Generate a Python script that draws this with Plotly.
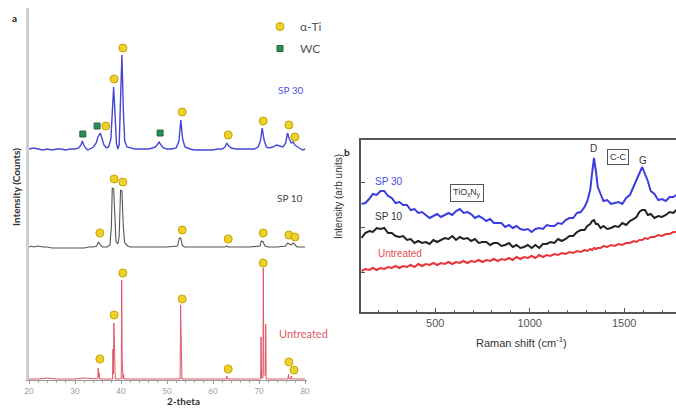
import plotly.graph_objects as go

# ---------------- Panel a: XRD data ----------------
sp30_x = [20,21,22,23,24,25,26,27,28,29,30,30.8,31.3,31.6,31.9,32.3,32.8,33.3,34.0,34.6,35.0,35.5,35.9,36.3,36.8,37.3,
          37.8,38.1,38.4,38.7,39.0,39.3,39.6,39.9,40.2,40.5,40.8,41.3,42,43,44,45,46,46.8,47.5,48.0,48.3,48.7,49.2,50,51,
          52.0,52.6,53.0,53.4,53.9,55,56,57,58,59,60,61,62,62.6,63.0,63.4,64,65,66,67,68,69,69.8,70.3,70.7,71.1,71.6,72.2,
          73,73.8,74.5,75.2,75.8,76.2,76.6,77.0,77.4,77.8,78.4,79,79.5,80]
sp30_h = [0,1,0,-1,0,-1,0,0,-1,0,0,1,4,8,4,1,-1,0,2,6,12,16,11,4,1,2,
          10,40,62,35,6,0,4,50,94,40,8,2,1,0,0,0,0,1,2,5,7,4,1,0,0,
          1,8,29,10,2,0,-1,-1,-1,-1,-1,0,0,2,6,3,1,0,0,0,0,0,2,8,21,9,2,1,
          2,4,3,2,6,16,10,6,7,4,2,0,-1,0]

sp10_x = [20,20.5,21,22,23,24,25,26,27,28,29,30,31,32,33,34,34.7,35.1,35.5,36,37,37.6,37.9,38.1,38.4,38.6,38.9,39.3,
          39.6,39.9,40.2,40.5,40.8,41.5,42,44,46,48,50,52.3,52.7,53.0,53.3,53.8,56,58,60,62.7,63.0,63.3,65,68,70.2,70.5,
          70.9,71.3,72,74,75.8,76.2,76.6,77.0,77.4,77.8,78.3,79,80]
sp10_h = [0,1,0,1,0,0,-1,-1,-1,-1,-1,-1,-1,-1,0,0,1,5,2,0,0,2,20,59,58,30,6,3,
          10,57,56,20,4,1,0,0,0,0,0,1,9,9,2,0,0,0,0,0,1,0,0,0,1,6,
          5,1,0,0,1,4,3,2,4,2,0,0,0]

untr_x = [20,22,24,26,28,30,32,34,34.95,35.05,35.15,35.25,35.35,37,38.15,38.25,38.35,38.45,38.55,38.65,38.75,
          40.05,40.15,40.25,40.35,40.45,40.55,40.65,45,50,52.85,52.95,53.05,53.15,53.25,58,62.9,63.0,63.1,66,
          70.35,70.43,70.55,70.85,70.93,71.05,71.38,71.46,71.55,74,76.3,76.4,76.5,76.9,77.0,77.1,80]
untr_h = [0,0,1,0,0,0,1,0,0,11,2,6,0,0,0,30,5,56,20,8,0,
          0,99,20,12,0,5,0,0,0,0,74,30,40,0,0,0,3,0,0,
          0,42,1,1,111,4,4,55,0,0,0,5,0,0,3,0,0]

xrd_offsets = {"SP 30": 231, "SP 10": 133, "Untreated": 1}

# peak markers (2-theta, height above pattern baseline)
ti_sp30_x = [36.7, 38.5, 40.4, 53.3, 63.3, 70.9, 76.5, 77.8]
ti_sp30_h = [23, 70, 101, 37, 14, 28, 24, 12]
wc_sp30_x = [31.7, 34.8, 48.5]
wc_sp30_h = [15, 23, 16]
ti_sp10_x = [35.4, 38.5, 40.4, 53.3, 63.3, 70.9, 76.5, 77.8]
ti_sp10_h = [14, 68, 65, 17, 8, 14, 12, 10]
ti_untr_x = [35.4, 38.5, 40.4, 53.3, 63.3, 70.9, 76.5, 77.6]
ti_untr_h = [20, 64, 106, 80, 10, 116, 17, 9]

# ---------------- Panel b: Raman data ----------------
raman_x = [110,130,150,170,190,210,230,250,270,290,310,330,350,370,390,410,430,450,470,490,
           510,530,550,570,590,610,630,650,670,690,710,730,750,770,790,810,830,850,870,890,
           910,930,950,970,990,1010,1030,1050,1070,1090,1110,1130,1150,1170,1190,1210,1230,1250,1270,1290,
           1305,1320,1330,1340,1350,1360,1375,1390,1410,1430,1450,1470,1490,1510,1530,1550,1565,1580,1595,
           1610,1625,1640,1660,1680,1700,1720,1740,1760,1775]
raman_sp30 = [108,109,113,118,117,121,121,116,114,109,110,107,107,102,103,99,100,97,94,96,
              98,95,97,99,97,101,103,99,100,98,94,96,94,91,93,89,89,89,85,87,
              84,86,83,82,83,80,83,84,83,87,86,86,89,88,92,94,94,99,100,105,
              111,122,139,154,141,125,118,111,112,108,109,110,108,114,117,126,132,140,145,
              138,131,121,118,112,113,111,115,115,117]
raman_sp10 = [74,79,81,80,84,83,84,79,79,76,75,76,72,73,69,71,69,70,68,72,
              70,72,74,73,76,72,75,73,74,71,73,69,70,70,67,69,69,66,67,69,
              65,67,64,65,67,64,67,64,68,68,70,69,73,71,73,76,76,80,82,82,
              86,88,91,92,88,88,84,86,83,84,86,85,89,87,91,93,95,100,102,
              102,97,98,94,96,95,97,100,99,102]
raman_untr = [41,43,42,44,42,44,43,45,44,46,44,46,45,47,45,48,46,48,47,49,
              47,49,48,50,48,50,49,51,49,51,50,52,50,52,51,53,51,53,52,54,
              52,55,53,55,54,56,54,57,55,57,56,58,57,59,58,60,59,61,60,62,
              61,63,62,64,63,64,64,66,65,67,66,68,67,69,69,71,70,72,72,
              74,73,75,75,77,76,78,78,80,80]

W, H = 676, 409
def px(x):
    return x / W
def py(y):
    return 1 - y / H

fig = go.Figure()

# XRD patterns
for name, xs, hs, color, width in [
    ("SP 30", sp30_x, sp30_h, "#4646d6", 1.4),
    ("SP 10", sp10_x, sp10_h, "#555555", 1.1),
    ("Untreated", untr_x, untr_h, "#e2566a", 1.0),
]:
    off = xrd_offsets[name]
    fig.add_trace(go.Scatter(x=xs, y=[h + off for h in hs], mode="lines",
                             line=dict(color=color, width=width),
                             showlegend=False, hoverinfo="skip", xaxis="x", yaxis="y"))

ti_marker = dict(symbol="circle", size=8, color="#ecd22a", line=dict(color="#c9a200", width=1))
wc_marker = dict(symbol="square", size=6, color="#2e8b57", line=dict(color="#1f6b42", width=1))

fig.add_trace(go.Scatter(x=ti_sp30_x, y=[h + xrd_offsets["SP 30"] for h in ti_sp30_h], mode="markers",
                         marker=ti_marker, name="α-Ti", legendgroup="ti", showlegend=True,
                         xaxis="x", yaxis="y"))
fig.add_trace(go.Scatter(x=wc_sp30_x, y=[h + xrd_offsets["SP 30"] for h in wc_sp30_h], mode="markers",
                         marker=wc_marker, name="WC", legendgroup="wc", showlegend=True,
                         xaxis="x", yaxis="y"))
fig.add_trace(go.Scatter(x=ti_sp10_x, y=[h + xrd_offsets["SP 10"] for h in ti_sp10_h], mode="markers",
                         marker=ti_marker, showlegend=False, legendgroup="ti", xaxis="x", yaxis="y"))
fig.add_trace(go.Scatter(x=ti_untr_x, y=[h + xrd_offsets["Untreated"] for h in ti_untr_h], mode="markers",
                         marker=ti_marker, showlegend=False, legendgroup="ti", xaxis="x", yaxis="y"))

# Raman spectra
for ys, color in [(raman_untr, "#e8353a"), (raman_sp10, "#222222"), (raman_sp30, "#3c3ce0")]:
    fig.add_trace(go.Scatter(x=raman_x, y=ys, mode="lines", line=dict(color=color, width=2),
                             showlegend=False, hoverinfo="skip", xaxis="x2", yaxis="y2"))

fa = "Lato"
fb = "Liberation Sans"

annotations = [
    dict(x=px(14), y=py(18), text="<b>a</b>", font=dict(family=fa, size=10, color="#222")),
    dict(x=px(16), y=py(187), text="<b>Intensity (Counts)</b>", textangle=-90,
         font=dict(family=fa, size=10, color="#333")),
    dict(x=px(183), y=py(401), text="<b>2-theta</b>", font=dict(family=fa, size=10, color="#333")),
    dict(x=px(291), y=py(90), text="SP 30", font=dict(family=fa, size=10, color="#5252e0")),
    dict(x=px(290), y=py(198), text="SP 10", font=dict(family=fa, size=10, color="#444")),
    dict(x=px(303), y=py(333), text="Untreated", font=dict(family=fa, size=11, color="#e05a66")),
    dict(x=px(347), y=py(152), text="<b>b</b>", font=dict(family=fa, size=10, color="#222")),
    dict(x=px(338), y=py(197), text="Intensity (arb units)", textangle=-90,
         font=dict(family=fb, size=10, color="#333")),
    dict(x=px(521), y=py(342), text="Raman shift (cm<sup>-1</sup>)", font=dict(family=fb, size=11, color="#333")),
    dict(x=px(388), y=py(181), text="SP 30", font=dict(family=fb, size=10, color="#4a4ae8")),
    dict(x=px(388), y=py(217), text="SP 10", font=dict(family=fb, size=10, color="#333")),
    dict(x=px(400), y=py(253), text="Untreated", font=dict(family=fb, size=10, color="#e05050")),
    dict(x=px(467), y=py(193), text="TiO<sub>x</sub>N<sub>y</sub>", font=dict(family=fb, size=9, color="#333"),
         bordercolor="#555", borderwidth=1, borderpad=2),
    dict(x=px(593), y=py(148), text="D", font=dict(family=fb, size=10, color="#333")),
    dict(x=px(618), y=py(157), text="C-C", font=dict(family=fb, size=9, color="#333"),
         bordercolor="#555", borderwidth=1, borderpad=2),
    dict(x=px(643), y=py(160), text="G", font=dict(family=fb, size=10, color="#333")),
]
for a in annotations:
    a.update(xref="paper", yref="paper", showarrow=False, xanchor="center", yanchor="middle")

fig.update_layout(
    width=W, height=H,
    margin=dict(l=0, r=0, t=0, b=0, autoexpand=False),
    paper_bgcolor="white", plot_bgcolor="white",
    annotations=annotations,
    showlegend=True,
    legend=dict(x=px(260), y=py(12), xanchor="left", yanchor="top", bgcolor="rgba(0,0,0,0)",
                font=dict(family=fa, size=12, color="#555"), tracegroupgap=3),
    xaxis=dict(domain=[px(29), px(307)], range=[20, 80.43], anchor="y",
               showline=True, linecolor="#999", linewidth=1,
               ticks="outside", ticklen=3, tickcolor="#999", tick0=20, dtick=10,
               minor=dict(ticks="outside", ticklen=2, dtick=2, tickcolor="#aaa"),
               tickfont=dict(family=fa, size=8, color="#999"),
               showgrid=False, zeroline=False),
    yaxis=dict(domain=[py(380), py(8)], range=[0, 372], anchor="x",
               showline=True, linecolor="#cfcfcf", linewidth=2.5,
               showticklabels=False, ticks="", showgrid=False, zeroline=False),
    xaxis2=dict(domain=[px(361), 1.0], range=[107, 1774], anchor="y2",
                showline=True, mirror=True, linecolor="#555", linewidth=1.5,
                ticks="inside", ticklen=4, tickcolor="#555", tick0=0, dtick=500,
                minor=dict(ticks="inside", ticklen=2.5, dtick=100, tickcolor="#666"),
                tickfont=dict(family=fb, size=11, color="#555"),
                showgrid=False, zeroline=False),
    yaxis2=dict(domain=[py(312), py(140)], range=[0, 172], anchor="x2",
                showline=True, linecolor="#555", linewidth=1.5,
                ticks="inside", ticklen=4, tickcolor="#555", tick0=40, dtick=45,
                showticklabels=False, showgrid=False, zeroline=False),
)

fig.write_html("out.html", config={"displayModeBar": False},
               post_script="document.body.style.margin='0';document.body.style.padding='0';document.body.style.overflow='hidden';")
